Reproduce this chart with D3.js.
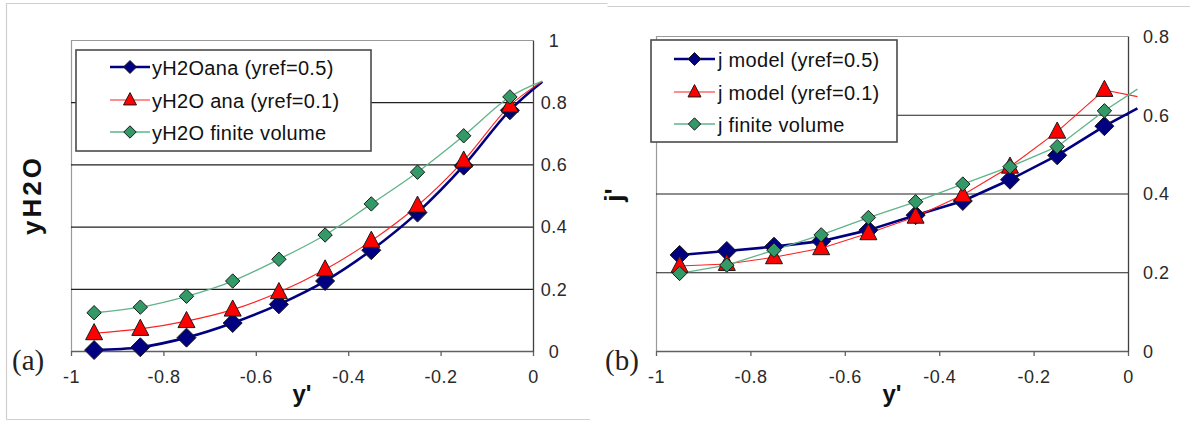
<!DOCTYPE html>
<html><head><meta charset="utf-8">
<script src="https://cdn.jsdelivr.net/npm/d3@7/dist/d3.min.js"></script>
<style>
html,body{margin:0;padding:0;background:#fff;}
svg{display:block;}
</style></head>
<body>
<svg id="chart" width="1190" height="421"></svg>
<script>
// ---- data ----
const xPositions = [-0.95, -0.85, -0.75, -0.65, -0.55, -0.45, -0.35, -0.25, -0.15, -0.05, 0.02];
const xTicks = [-1, -0.8, -0.6, -0.4, -0.2, 0];
const xTickLabels = ["-1", "-0.8", "-0.6", "-0.4", "-0.2", "0"];
const yTicksA = [0, 0.2, 0.4, 0.6, 0.8, 1];
const yTickLabelsA = ["0", "0.2", "0.4", "0.6", "0.8", "1"];
const yTicksB = [0, 0.2, 0.4, 0.6, 0.8];
const yTickLabelsB = ["0", "0.2", "0.4", "0.6", "0.8"];

// panel (a): yH2O
const yH2Oana05 = [0.003, 0.012, 0.043, 0.090, 0.150, 0.225, 0.324, 0.445, 0.596, 0.774, 0.866];
const yH2Oana01 = [0.057, 0.071, 0.096, 0.133, 0.189, 0.262, 0.354, 0.467, 0.612, 0.789, 0.867];
const yH2Ofv    = [0.123, 0.141, 0.176, 0.225, 0.295, 0.373, 0.473, 0.575, 0.692, 0.817, 0.868];
const legendA = ["yH2Oana (yref=0.5)", "yH2O ana (yref=0.1)", "yH2O finite volume"];

// panel (b): j'
const jModel05 = [0.244, 0.254, 0.265, 0.279, 0.307, 0.345, 0.381, 0.435, 0.497, 0.571, 0.616];
const jModel01 = [0.216, 0.221, 0.238, 0.261, 0.299, 0.341, 0.396, 0.468, 0.557, 0.663, 0.646];
const jFV      = [0.197, 0.218, 0.256, 0.295, 0.339, 0.379, 0.424, 0.468, 0.519, 0.610, 0.665];
const legendB = ["j model (yref=0.5)", "j model (yref=0.1)", "j finite volume"];

// ---- styles ----
const SANS = '"Liberation Sans", Arial, sans-serif';
const SERIF = '"Liberation Serif", "Times New Roman", serif';
const styles = [
  {line:"#000080", lw:2.6, marker:"diamond", fill:"#000080", size:9.5, lsize:6.5},
  {line:"#ff2020", lw:1.1, marker:"triangle", fill:"#ff0000", size:8.5, lsize:6.5},
  {line:"#5fb48a", lw:1.3, marker:"diamond", fill:"#339966", size:7.2, lsize:6.2}
];

const svg = d3.select("#chart");

// panel frames
svg.append("path").attr("d","M6.5,419.5 V3.5 H607.5").attr("fill","none").attr("stroke","#cfcfcf").attr("stroke-width",1.2);
svg.append("path").attr("d","M6.5,419.5 H590").attr("fill","none").attr("stroke","#cfcfcf").attr("stroke-width",1.2);
svg.append("path").attr("d","M607.5,6.5 H1190").attr("fill","none").attr("stroke","#cfcfcf").attr("stroke-width",1.2);

function markerPath(type, s){
  if(type==="diamond") return `M0,${-s} L${s},0 L0,${s} L${-s},0 Z`;
  const h = s*1.9; // triangle
  return `M0,${-h*0.6} L${s},${h*0.4} L${-s},${h*0.4} Z`;
}

function panel(cfg){
  const g = svg.append("g");
  const x = d3.scaleLinear().domain([-1,0]).range([cfg.left, cfg.right]);
  const y = d3.scaleLinear().domain([0, cfg.ymax]).range([cfg.bottom, cfg.top]);

  // plot area top & left border
  g.append("line").attr("x1",cfg.left).attr("x2",cfg.right).attr("y1",cfg.top+0.5).attr("y2",cfg.top+0.5)
    .attr("stroke","#9a9a9a").attr("stroke-width",1.2);
  g.append("line").attr("x1",cfg.left+0.5).attr("x2",cfg.left+0.5).attr("y1",cfg.top).attr("y2",cfg.bottom)
    .attr("stroke","#9a9a9a").attr("stroke-width",1.2);

  // gridlines
  const grid = g.append("g").attr("transform",`translate(${cfg.left},0)`)
    .call(d3.axisLeft(y).tickValues(cfg.yTicks.filter(v=>v>0 && v<cfg.ymax)).tickSize(-(cfg.right-cfg.left)).tickFormat(""));
  grid.select(".domain").remove();
  grid.selectAll(".tick line").attr("stroke","#202020").attr("stroke-width",1.2);

  // x axis
  const xa = g.append("g").attr("transform",`translate(0,${cfg.bottom})`)
    .call(d3.axisBottom(x).tickValues(xTicks).tickSize(5).tickSizeOuter(0)
      .tickFormat((d,i)=>xTickLabels[i]));
  xa.select(".domain").attr("stroke","#606060").attr("stroke-width",1.3);
  xa.selectAll(".tick line").attr("stroke","#606060").attr("stroke-width",1.3);
  xa.selectAll(".tick text").attr("y",26).attr("dy","0.35em").attr("fill","#2a2a2a")
    .style("font-size","18px").style("font-family",SANS).style("letter-spacing","0.5px");

  // right y axis
  const ya = g.append("g").attr("transform",`translate(${cfg.right},0)`)
    .call(d3.axisRight(y).tickValues(cfg.yTicks).tickSize(0).tickSizeOuter(0)
      .tickFormat((d,i)=>cfg.yTickLabels[i]));
  ya.select(".domain").attr("stroke","#404040").attr("stroke-width",1.3);
  ya.selectAll(".tick text").attr("x",cfg.ylabX).attr("dy","0.35em").attr("text-anchor",cfg.ylabAnchor).attr("fill","#2a2a2a")
    .style("font-size","18px").style("font-family",SANS).style("letter-spacing","0.5px");

  // series
  const line = d3.line().x((d,i)=>x(xPositions[i])).y(d=>y(d)).curve(cfg.curve);
  [0,1,2].forEach(si=>{
    const st = styles[si];
    g.append("path").datum(cfg.series[si]).attr("d",line).attr("fill","none")
      .attr("stroke",st.line).attr("stroke-width",st.lw).attr("stroke-linejoin","round");
  });
  [0,1,2].forEach(si=>{
    const st = styles[si];
    g.append("g").selectAll("path").data(cfg.series[si].slice(0,10)).join("path")
      .attr("transform",(d,i)=>`translate(${x(xPositions[i])},${y(d)})`)
      .attr("d",markerPath(st.marker, st.size))
      .attr("fill",st.fill).attr("stroke","#1a1a1a").attr("stroke-width",1);
  });

  // legend
  const lg = g.append("g");
  lg.append("rect").attr("x",cfg.leg.x).attr("y",cfg.leg.y).attr("width",cfg.leg.w).attr("height",cfg.leg.h)
    .attr("fill","#fff").attr("stroke","#4a4a4a").attr("stroke-width",1.6);
  cfg.legend.forEach((name,i)=>{
    const st = styles[i];
    const ry = cfg.leg.rows[i];
    lg.append("line").attr("x1",cfg.leg.lx1).attr("x2",cfg.leg.lx2).attr("y1",ry).attr("y2",ry)
      .attr("stroke",st.line).attr("stroke-width",st.lw);
    lg.append("path").attr("transform",`translate(${(cfg.leg.lx1+cfg.leg.lx2)/2},${ry})`)
      .attr("d",markerPath(st.marker, st.lsize)).attr("fill",st.fill).attr("stroke","#1a1a1a").attr("stroke-width",1);
    lg.append("text").attr("x",cfg.leg.tx).attr("y",ry).attr("dy","0.38em").attr("fill","#111")
      .style("font-size","20px").style("font-family",SANS).style("letter-spacing","0.3px").text(name);
  });

  // axis titles
  g.append("text").attr("transform",`translate(${cfg.ytitle.x},${cfg.ytitle.y}) rotate(-90)`)
    .attr("text-anchor","middle").attr("fill","#111")
    .style("font-size",cfg.ytitle.size+"px").style("font-weight","bold").style("font-family",SANS)
    .style("letter-spacing",cfg.ytitle.ls+"px")
    .text(cfg.ytitle.text);
  g.append("text").attr("x",(cfg.left+cfg.right)/2).attr("y",402).attr("text-anchor","middle").attr("fill","#111")
    .style("font-size","24px").style("font-weight","bold").style("font-family",SANS).text("y'");
  g.append("text").attr("x",cfg.tag.x).attr("y",370).attr("fill","#222")
    .style("font-family",SERIF).style("font-size","29px").text(cfg.tag.text);
}

panel({left:71, right:533, top:40, bottom:351, ymax:1, yTicks:yTicksA, yTickLabels:yTickLabelsA,
  ylabX:21, ylabAnchor:"middle", curve:d3.curveCatmullRom.alpha(0.5),
  series:[yH2Oana05, yH2Oana01, yH2Ofv], legend:legendA,
  leg:{x:76, y:50, w:295, h:101, rows:[67,100,132], lx1:110, lx2:150, tx:152},
  ytitle:{x:41, y:195, size:26, ls:3, text:"yH2O"}, tag:{x:12, text:"(a)"}});

panel({left:656, right:1128, top:36, bottom:351, ymax:0.8, yTicks:yTicksB, yTickLabels:yTickLabelsB,
  ylabX:15, ylabAnchor:"start", curve:d3.curveLinear,
  series:[jModel05, jModel01, jFV], legend:legendB,
  leg:{x:651, y:40, w:246, h:102, rows:[59,92,124], lx1:674, lx2:715, tx:718},
  ytitle:{x:623, y:195, size:26, ls:0, text:"j'"}, tag:{x:605, text:"(b)"}});
</script>
</body></html>
